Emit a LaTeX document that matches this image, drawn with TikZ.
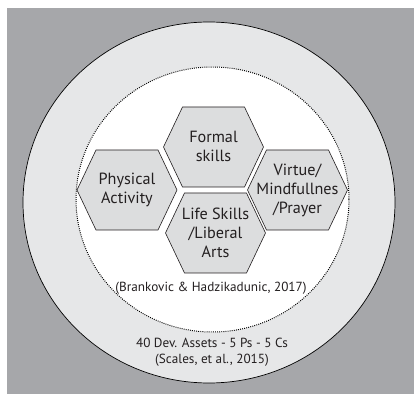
\documentclass[tikz,border=0pt]{standalone}
\usepackage{fontspec}
\setmainfont{PT Sans}
\definecolor{bggray}{HTML}{A6A7AA}
\definecolor{ringgray}{HTML}{E6E7E8}
\definecolor{hexgray}{HTML}{DCDDDE}
\definecolor{txtgray}{HTML}{231F20}
\begin{document}
\begin{tikzpicture}[x=1pt,y=-1pt,
  hexbox/.style={draw=txtgray,fill=hexgray,line width=0.6pt},
  hexlabel/.style={align=center,font=\fontsize{16.2}{19}\selectfont,text=txtgray,inner sep=0pt},
  citelabel/.style={align=center,font=\fontsize{13.2}{16}\selectfont,text=txtgray,inner sep=0pt}]
\useasboundingbox (0,0) rectangle (416,396);
\fill[white] (0,0) rectangle (416,396);
\fill[bggray] (7,8) rectangle (414,394);
\draw[fill=ringgray,draw=black,line width=0.7pt] (209,202.5) ellipse [x radius=186,y radius=180.5];
\draw[fill=white,draw=black,line width=1pt,dash pattern=on 0.9pt off 1.2pt] (212.5,199.5) ellipse [x radius=136.5,y radius=132.5];
\foreach \n/\cx/\cy in {pa/127/190, fs/213.5/147, vm/297.5/190, ls/215.5/233}{
  \draw[hexbox] (\cx-50,\cy) -- (\cx-31,\cy-40) -- (\cx+31,\cy-40) -- (\cx+50,\cy) -- (\cx+31,\cy+40) -- (\cx-31,\cy+40) -- cycle;
  \coordinate (\n) at (\cx,\cy);
}
\node[hexlabel] (tpa) at (pa) {Physical\\Activity};
\node[hexlabel] (tfs) at ([yshift=1pt]fs) {Formal\\skills};
\node[hexlabel] (tvm) at (vm) {Virtue/\\Mindfullnes\\/Prayer};
\node[hexlabel] (tls) at (ls) {Life Skills\\/Liberal\\Arts};
\node[citelabel] (bh) at (211,288) {(Brankovic \& Hadzikadunic, 2017)};
\node[citelabel] (sc) at (212,352) {40 Dev. Assets - 5 Ps - 5 Cs\\(Scales, et al., 2015)};
\end{tikzpicture}
\end{document}
